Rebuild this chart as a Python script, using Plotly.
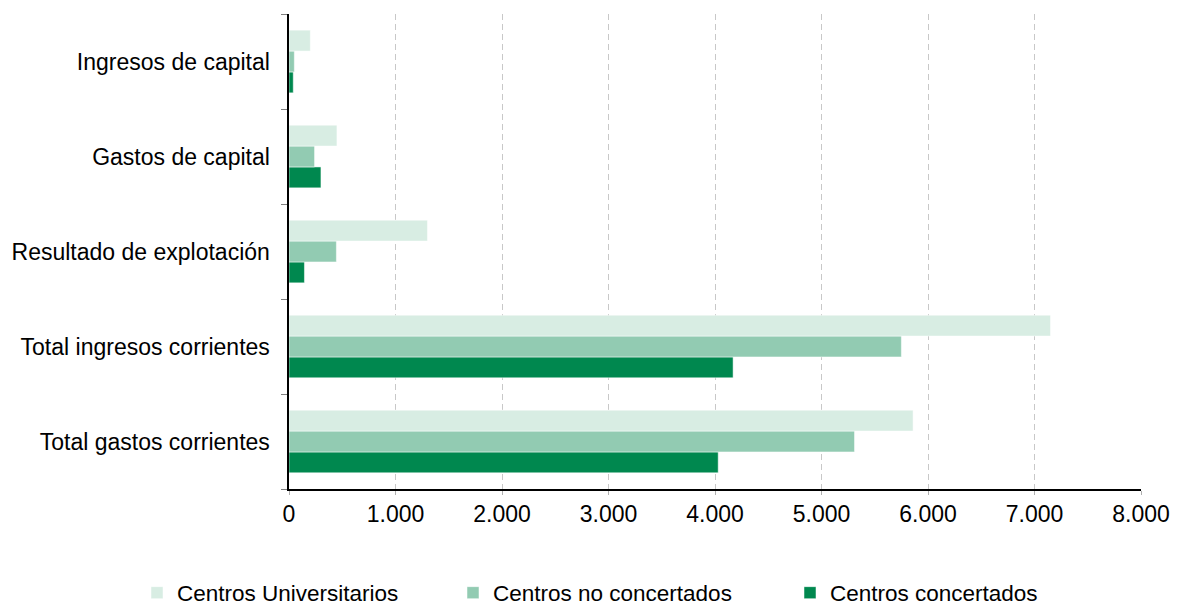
import plotly.graph_objects as go

categories = ["Total gastos corrientes", "Total ingresos corrientes",
              "Resultado de explotación", "Gastos de capital", "Ingresos de capital"]
series_names = ["Centros Universitarios", "Centros no concertados", "Centros concertados"]
universitarios = [5860, 7150, 1300, 450, 200]
no_concertados = [5310, 5750, 445, 240, 50]
concertados = [4030, 4170, 145, 300, 40]
x_ticks = [0, 1000, 2000, 3000, 4000, 5000, 6000, 7000, 8000]

colors = {"Centros Universitarios": "#d8ede3",
          "Centros no concertados": "#92cbb2",
          "Centros concertados": "#00884f"}

FONT = "Liberation Sans, Arial, sans-serif"
FS = 23

# page body has an 8px margin, so the figure is drawn at (8, 8)
W, H = 1170, 600
L, T, R, B = 281, 6, 37, 119
PW = W - L - R

fig = go.Figure()
# plotly draws grouped horizontal bars from bottom, so add bottom-most first
for name, vals, leg in [("Centros concertados", concertados, "legend3"),
                        ("Centros no concertados", no_concertados, "legend2"),
                        ("Centros Universitarios", universitarios, "legend")]:
    fig.add_trace(go.Bar(
        y=categories, x=vals, name=name, orientation="h",
        marker=dict(color=colors[name], line=dict(color="white", width=0.5)),
        legend=leg, showlegend=True,
    ))

legend_common = dict(orientation="h", yanchor="middle", y=-0.219, xanchor="left",
                     font=dict(family=FONT, size=22.5, color="black"),
                     bgcolor="rgba(0,0,0,0)", itemwidth=30, visible=True,
                     borderwidth=0)

fig.update_layout(
    width=W, height=H,
    margin=dict(l=L, r=R, t=T, b=B, autoexpand=False),
    paper_bgcolor="white", plot_bgcolor="white",
    barmode="group", bargap=0.34, bargroupgap=0,
    separators=",.",
    showlegend=True,
    font=dict(family=FONT, size=FS, color="black"),
    legend=dict(**legend_common, x=(129 - L) / PW),
    legend2=dict(**legend_common, x=(445 - L) / PW),
    legend3=dict(**legend_common, x=(782 - L) / PW),
    xaxis=dict(
        range=[0, 8000], tickvals=x_ticks, tickformat=",d",
        showgrid=True, gridcolor="#c8c8c8", griddash="6px,4px", gridwidth=1,
        showline=True, linecolor="black", linewidth=1.5,
        ticks="outside", ticklen=4, tickcolor="#b0b0b0",
        zeroline=False, tickfont=dict(size=FS),
    ),
    yaxis=dict(
        categoryorder="array", categoryarray=categories,
        showgrid=False, showline=True, linecolor="black", linewidth=1.5,
        ticks="outside", ticklen=6, tickcolor="#808080", tickson="boundaries",
        tickfont=dict(size=FS), ticksuffix="  ",
    ),
)

fig.write_html("out.html")
